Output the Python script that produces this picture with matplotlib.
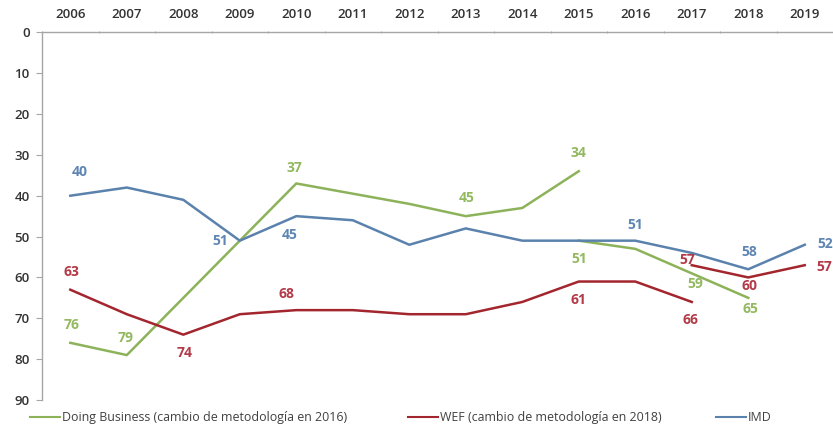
import numpy as np
import matplotlib
matplotlib.use("Agg")
import matplotlib.pyplot as plt
from matplotlib.lines import Line2D

plt.rcParams['font.family'] = ['Open Sans', 'DejaVu Sans']

# Data (ranking positions, lower is better)
years = list(range(2006, 2020))

db_old_years = list(range(2006, 2016))
db_old = [76, 79, 65, 51, 37, 39.5, 42, 45, 43, 34]
db_new_years = [2015, 2016, 2017, 2018]
db_new = [51, 53, 59, 65]

wef_old_years = list(range(2006, 2018))
wef_old = [63, 69, 74, 69, 68, 68, 69, 69, 66, 61, 61, 66]
wef_new_years = [2017, 2018, 2019]
wef_new = [57, 60, 57]

imd_years = years
imd = [40, 38, 41, 51, 45, 46, 52, 48, 51, 51, 51, 54, 58, 52]

# Labelled points: (year, value)
db_labels = [(2006, 76), (2007, 79), (2010, 37), (2013, 45), (2015, 34)]
db_new_labels = [(2015, 51), (2017, 59), (2018, 65)]
imd_labels = [(2006, 40), (2009, 51), (2010, 45), (2016, 51), (2018, 58), (2019, 52)]
wef_labels = [(2006, 63), (2008, 74), (2010, 68), (2015, 61), (2017, 66)]
wef_new_labels = [(2017, 57), (2018, 60), (2019, 57)]

legend_names = ["Doing Business (cambio de metodología en 2016)",
                "WEF (cambio de metodología en 2018)",
                "IMD"]

# styles
c_green, c_green_t = "#8db35a", "#93b960"
c_red, c_red_t = "#a3262f", "#b33a48"
c_blue, c_blue_t = "#5a82ad", "#5f86b3"

# label offsets in pixels (dx, dy)
off = {
    ('db', 2006): (1, 18), ('db', 2007): (-1, 17), ('db', 2010): (-2, 15),
    ('db', 2013): (1, 18), ('db', 2015): (0, 18),
    ('dbn', 2015): (0, -18), ('dbn', 2017): (4, -11), ('dbn', 2018): (2, -11),
    ('imd', 2006): (9, 24), ('imd', 2009): (-20, 0), ('imd', 2010): (-7, -19),
    ('imd', 2016): (0, 16), ('imd', 2018): (1, 17), ('imd', 2019): (20, 1),
    ('wef', 2006): (1, 18), ('wef', 2008): (1, -18), ('wef', 2010): (-10, 16),
    ('wef', 2015): (0, -18), ('wef', 2017): (-1, -18),
    ('wefn', 2017): (-4, 5), ('wefn', 2018): (1, -9), ('wefn', 2019): (20, -2),
}

fig = plt.figure(figsize=(8.33, 4.34), dpi=100)
ax = fig.add_axes([0.0505, 0.0783, 0.9495, 0.8473])

lw = 1.8
ax.plot(db_old_years, db_old, color=c_green, lw=lw)
ax.plot(db_new_years, db_new, color=c_green, lw=lw)
ax.plot(wef_old_years, wef_old, color=c_red, lw=lw)
ax.plot(wef_new_years, wef_new, color=c_red, lw=lw)
ax.plot(imd_years, imd, color=c_blue, lw=lw)

def put_labels(key, pts, color):
    for yr, v in pts:
        dx, dy = off[(key, yr)]
        ax.annotate(f"{v:g}", (yr, v), xytext=(dx, dy), textcoords='offset pixels',
                    ha='center', va='center', fontsize=10, fontweight='bold',
                    color=color)

put_labels('db', db_labels, c_green_t)
put_labels('dbn', db_new_labels, c_green_t)
put_labels('imd', imd_labels, c_blue_t)
put_labels('wef', wef_labels, c_red_t)
put_labels('wefn', wef_new_labels, c_red_t)

ax.set_xlim(2005.5, 2019.5)
ax.set_ylim(90, 0)
ax.set_yticks(range(0, 91, 10))
ax.xaxis.tick_top()
ax.set_xticks(years)
ax.set_xticks(np.arange(2005.5, 2019.6, 1), minor=True)
ax.tick_params(axis='x', which='major', length=0, pad=8, labelsize=9.5, labelcolor='#333333')
ax.tick_params(axis='x', which='minor', length=2, direction='inout', color='#999999')
ax.tick_params(axis='y', length=4, color='#a6a6a6', pad=5, labelsize=9.5, labelcolor='#333333')
for lab in ax.get_xticklabels() + ax.get_yticklabels():
    lab.set_fontweight('semibold')

for s in ['right', 'bottom']:
    ax.spines[s].set_visible(False)
for s in ['left', 'top']:
    ax.spines[s].set_color('#a6a6a6')
    ax.spines[s].set_linewidth(1.0)

# legend entries placed like the original
leg_x = [0.036, 0.490, 0.860]
leg_c = [c_green, c_red, c_blue]
for x, name, c in zip(leg_x, legend_names, leg_c):
    h = Line2D([], [], color=c, lw=1.5)
    fig.legend([h], [name], loc='center left', bbox_to_anchor=(x, 0.037),
               frameon=False, fontsize=8.9, handlelength=2.4, handletextpad=0.15,
               borderpad=0, borderaxespad=0, labelcolor='#404040')

fig.savefig("out.png", dpi=100)
